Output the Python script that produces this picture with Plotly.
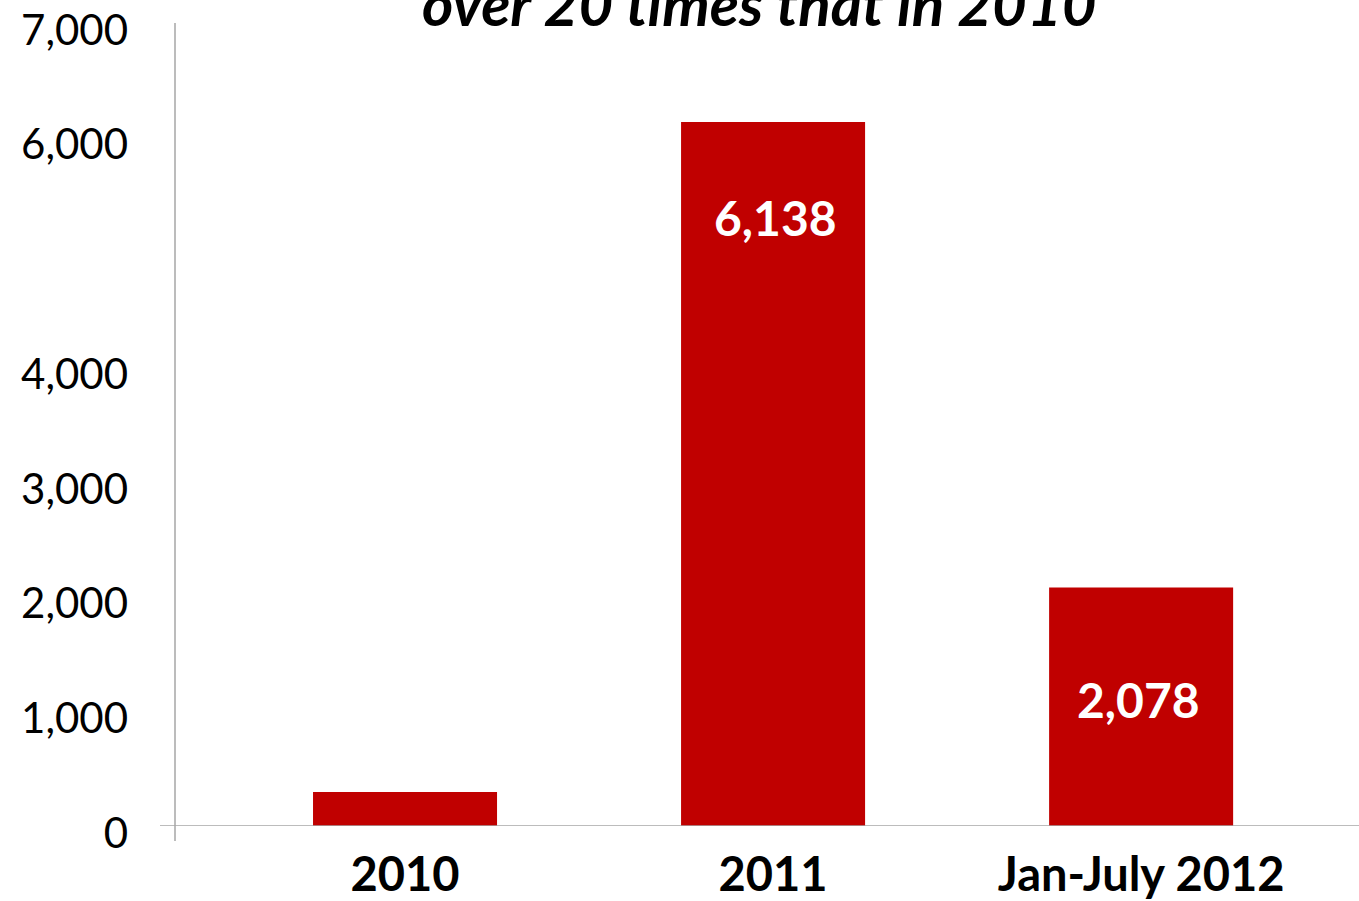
import plotly.graph_objects as go

# Chart data
categories = ["2010", "2011", "Jan-July 2012"]
values = [296, 6138, 2078]
labelled = [False, True, True]
y_ticks = [0, 1000, 2000, 3000, 4000, 6000, 7000]
y_tick_text = ["0", "1,000", "2,000", "3,000", "4,000", "6,000", "7,000"]
title_text = "over 20 times that in 2010"

BAR_COLOR = "#C00000"
AXIS_COLOR = "#A6A6A6"
FONT = "Lato"

W, H = 1359, 901
M_L, M_R, M_T, M_B = 175, 0, 23, 75
plot_w = W - M_L - M_R
plot_h = H - M_T - M_B

fig = go.Figure(
    go.Bar(
        x=categories,
        y=values,
        width=0.5,
        marker=dict(color=BAR_COLOR, line=dict(width=0)),
        hoverinfo="skip",
    )
)

# value labels placed inside the upper part of the bars
label_offsets = [0, -96, -112]
label_xshift = [0, 2, -3]
for i, (val, show, off, dx) in enumerate(zip(values, labelled, label_offsets, label_xshift)):
    if show:
        fig.add_annotation(
            x=i, y=val, xref="x", yref="y",
            text=f"<b>{val:,}</b>",
            showarrow=False, yanchor="middle", yshift=off, xshift=dx,
            font=dict(family=FONT, size=48, color="white"),
        )

# headline (only its last line fits on the page)
fig.add_annotation(
    x=(759 - M_L) / plot_w, y=1 - (41 - M_T) / plot_h, xref="paper", yref="paper",
    text=f"<b><i>{title_text}</i></b>",
    showarrow=False, xanchor="center", yanchor="bottom",
    font=dict(family=FONT, size=60, color="black"),
)

# axis lines crossing at zero, Excel style
fig.add_shape(type="line", xref="paper", yref="paper",
              x0=0, x1=0, y0=-15 / plot_h, y1=1,
              line=dict(color=AXIS_COLOR, width=1.5))
fig.add_shape(type="line", xref="paper", yref="y",
              x0=-15 / plot_w, x1=1, y0=0, y1=0,
              line=dict(color=AXIS_COLOR, width=1.5))

fig.update_layout(
    width=W, height=H,
    margin=dict(l=M_L, r=M_R, t=M_T, b=M_B, pad=0, autoexpand=False),
    paper_bgcolor="white", plot_bgcolor="white",
    showlegend=False,
    font=dict(family=FONT, color="black"),
    xaxis=dict(
        type="category", range=[-0.625, 2.592], automargin=False,
        showline=False, showgrid=False, zeroline=False, ticks="",
        tickfont=dict(family=FONT, size=47, color="black"),
        tickprefix="<b>", ticksuffix="</b>",
        ticklabelstandoff=17,
    ),
    yaxis=dict(
        range=[0, 7000], automargin=False,
        tickvals=y_ticks, ticktext=y_tick_text,
        showline=False, showgrid=False, zeroline=False, ticks="",
        tickfont=dict(family=FONT, size=42, color="black"),
        ticklabelstandoff=46, ticklabelshift=7,
    ),
)

fig.write_html("out.html")
